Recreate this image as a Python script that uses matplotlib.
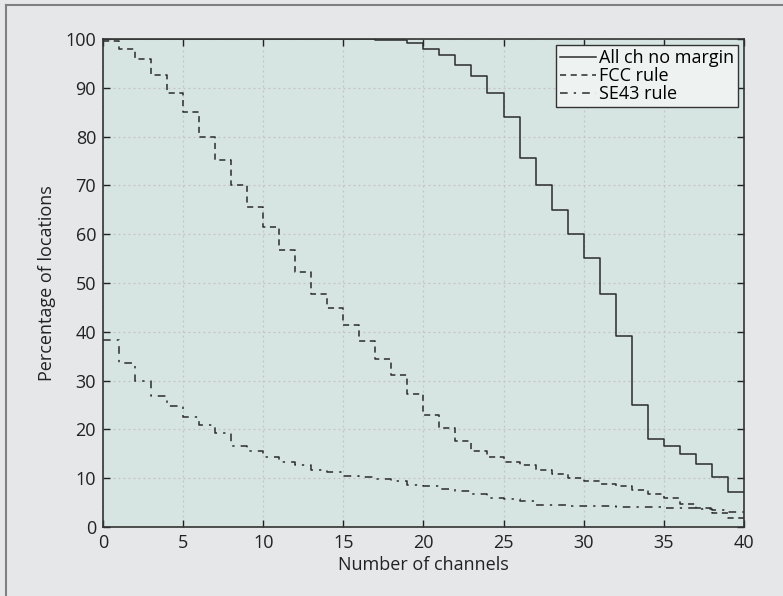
import numpy as np
import matplotlib
matplotlib.use('Agg')
import matplotlib.pyplot as plt
from matplotlib.lines import Line2D

# channels 0..39, value held over [k, k+1)
channels = list(range(41))
all_ch = [100.0, 100.0, 100.0, 100.0, 100.0, 100.0, 100.0, 100.0, 100.0, 100.0,
          100.0, 100.0, 100.0, 100.0, 100.0, 100.0, 99.95, 99.85, 99.7, 99.1,
          98.0, 96.8, 94.7, 92.4, 88.9, 84.0, 75.7, 70.0, 64.9, 60.0,
          55.1, 47.8, 39.1, 25.0, 18.0, 16.5, 15.0, 13.0, 10.3, 7.2]
fcc = [99.6, 98.0, 95.8, 92.7, 88.9, 85.0, 79.9, 75.1, 70.0, 65.6,
       61.4, 56.8, 52.2, 47.7, 44.8, 41.3, 38.1, 34.5, 31.2, 27.2,
       23.0, 20.3, 17.7, 15.6, 14.3, 13.3, 12.6, 11.7, 10.8, 10.0,
       9.4, 8.9, 8.3, 7.6, 6.8, 5.9, 4.7, 3.8, 2.9, 1.8]
se43 = [38.4, 33.7, 30.0, 26.8, 24.8, 22.6, 20.9, 19.2, 16.6, 15.6,
        14.3, 13.4, 12.6, 11.7, 11.2, 10.5, 10.3, 9.9, 9.5, 8.7,
        8.4, 7.8, 7.3, 6.8, 6.0, 5.8, 5.3, 4.6, 4.5, 4.3,
        4.3, 4.2, 4.1, 4.0, 4.0, 3.9, 3.8, 3.7, 3.4, 3.1]
labels = ['All ch no margin', 'FCC rule', 'SE43 rule']
xticks = [0, 5, 10, 15, 20, 25, 30, 35, 40]
yticks = [0, 10, 20, 30, 40, 50, 60, 70, 80, 90, 100]

plt.rcParams['font.family'] = ['Open Sans', 'DejaVu Sans']

fig = plt.figure(figsize=(7.83, 5.96), dpi=100, facecolor='#e6e7e9')
ax = fig.add_axes([0.1315, 0.1158, 0.8185, 0.8188])
ax.set_facecolor('#d6e5e2')

lc = '#2b2b2b'
ax.step(channels, all_ch + [all_ch[-1]], where='post', color=lc, lw=1.1, label=labels[0])
ax.step(channels, fcc + [fcc[-1]], where='post', color=lc, lw=1.1,
        linestyle=(0, (4, 3)), label=labels[1])
ax.step(channels, se43 + [se43[-1]], where='post', color=lc, lw=1.1,
        linestyle=(0, (5, 4, 1.5, 4)), label=labels[2])

ax.set_xlim(0, 40)
ax.set_ylim(0, 100)
ax.set_xticks(xticks)
ax.set_yticks(yticks)
ax.grid(True, linestyle=(0, (1.5, 2.5)), color='#c6c2c4', lw=0.9)
ax.tick_params(direction='in', length=5, width=1, top=True, right=True,
               labelsize=13, colors='#222222', pad=5)
for s in ax.spines.values():
    s.set_color('#333333')
    s.set_linewidth(1.2)

ax.set_xlabel('Number of channels', fontsize=13, color='#222222', labelpad=3)
ax.set_ylabel('Percentage of locations', fontsize=13, color='#222222', labelpad=7)

leg = ax.legend(loc='upper right', fontsize=13, frameon=True, fancybox=False,
                handlelength=2.0, handletextpad=0.15, borderpad=0.2,
                labelspacing=0.0, borderaxespad=0.35)
leg.get_frame().set_facecolor('#eef3f2')
leg.get_frame().set_edgecolor('#333333')
leg.get_frame().set_alpha(1)
leg.get_frame().set_linewidth(1.0)

# outer frame (left and top only visible)
fig.add_artist(Line2D([0.0077, 0.0077], [0.0, 0.9916], transform=fig.transFigure,
                      color='#808080', lw=1.5))
fig.add_artist(Line2D([0.0077, 1.0], [0.9916, 0.9916], transform=fig.transFigure,
                      color='#808080', lw=1.5))

plt.savefig('out.png', dpi=100, facecolor=fig.get_facecolor())
